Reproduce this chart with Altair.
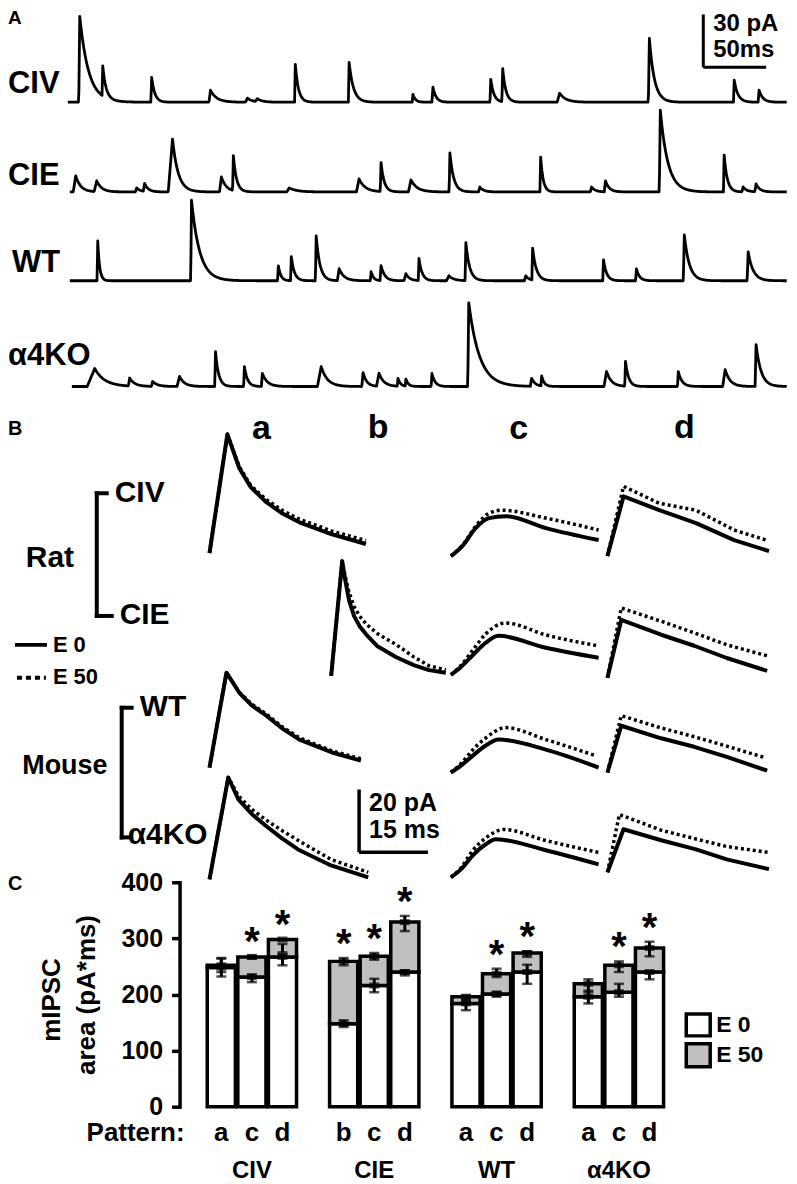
import altair as alt
import numpy as np
import pandas as pd

FONT = "Liberation Sans"

# ======================= Panel A : raw mIPSC traces =======================
# events: (peak time ms, amplitude pA, rise ms, decay tau ms)
A_NAMES = ["CIV", "CIE", "WT", "α4KO"]
A_T_START = [0.0, 1.6, 1.6, 3.2]
A_T_END = [572.0, 572.0, 572.0, 572.0]
CIV_EVENTS = [
    (9.5, 48.7, 0.8, 7.0), (27.8, 17.0, 0.6, 2.5), (66.7, 14.1, 0.6, 2.5),
    (113.5, 6.8, 1.2, 5.0), (142.9, 2.3, 1.5, 4.0), (150.8, 1.7, 1.5, 4.0),
    (181.0, 21.5, 0.6, 2.5), (223.8, 22.6, 0.6, 3.5), (274.6, 4.5, 0.6, 2.0),
    (290.5, 8.5, 0.8, 2.5), (336.5, 13.0, 0.6, 2.5), (346.0, 18.7, 0.6, 2.5),
    (391.3, 5.1, 2.0, 5.0), (462.7, 36.2, 0.8, 4.0), (530.2, 12.5, 0.6, 3.0),
    (550.0, 6.8, 0.8, 3.0),
]
CIE_EVENTS = [
    (6.3, 9.1, 2.0, 4.0), (23.0, 6.2, 2.0, 4.0), (54.8, 2.3, 1.0, 3.0),
    (61.1, 4.5, 1.0, 3.0), (83.3, 30.0, 3.4, 4.5), (122.2, 8.5, 1.5, 4.0),
    (131.7, 19.8, 0.6, 2.5), (176.2, 2.3, 2.0, 6.0), (231.7, 7.4, 2.0, 5.0),
    (249.2, 16.4, 0.6, 2.5), (273.0, 6.8, 2.0, 5.0), (304.0, 22.1, 0.6, 3.0),
    (327.8, 2.8, 1.0, 3.0), (376.2, 19.8, 0.6, 2.0), (416.7, 2.8, 1.0, 3.0),
    (427.8, 6.2, 1.0, 3.0), (471.4, 46.4, 0.8, 6.0), (522.2, 20.9, 0.6, 2.5),
    (537.3, 2.8, 1.0, 3.0), (547.6, 4.5, 1.0, 3.0),
]
WT_EVENTS = [
    (23.8, 22.6, 0.5, 1.5), (98.4, 45.8, 0.6, 6.5), (167.5, 8.5, 0.6, 2.0),
    (177.8, 13.6, 0.6, 2.5), (197.6, 25.5, 0.6, 3.0), (215.9, 6.8, 1.5, 4.0),
    (241.3, 5.1, 0.6, 2.0), (249.2, 8.5, 0.8, 3.0), (269.0, 4.0, 1.5, 3.0),
    (279.4, 12.5, 0.6, 2.5), (303.2, 2.8, 2.0, 4.0), (316.7, 21.5, 0.6, 3.0),
    (364.3, 2.8, 1.0, 3.0), (369.8, 18.1, 0.6, 3.0), (426.2, 11.9, 0.6, 2.5),
    (452.4, 6.8, 0.6, 2.5), (490.5, 26.0, 0.8, 4.0), (541.3, 16.4, 0.8, 4.0),
]
KO_EVENTS = [
    (21.4, 10.2, 6.0, 8.0), (49.2, 4.5, 1.0, 4.0), (67.5, 2.8, 1.0, 4.0),
    (88.9, 5.7, 2.0, 4.0), (117.5, 19.8, 0.6, 2.5), (140.5, 11.3, 0.6, 2.5),
    (154.8, 7.4, 0.8, 4.0), (201.6, 11.3, 3.0, 5.0), (234.9, 7.9, 1.0, 3.0),
    (247.6, 7.4, 2.0, 4.0), (262.7, 4.5, 0.6, 2.0), (269.0, 4.0, 0.6, 2.0),
    (289.7, 7.4, 0.6, 2.5), (319.0, 47.5, 0.8, 8.5), (369.0, 4.5, 1.0, 3.0),
    (377.0, 5.7, 0.6, 2.0), (428.6, 8.5, 2.0, 4.0), (443.7, 14.1, 0.6, 2.5),
    (485.7, 8.5, 0.6, 3.0), (523.0, 9.6, 2.0, 4.0), (547.6, 23.8, 0.8, 4.0),
]
A_EVENTS = [CIV_EVENTS, CIE_EVENTS, WT_EVENTS, KO_EVENTS]
A_SCALE_PA = 30
A_SCALE_MS = 50

# ======================= Panel B : averaged mIPSCs =======================
# knots: (time ms from trace start, current pA above baseline)
CIV_A_E0 = [(0, 0), (3.9, 37.8), (6.5, 27.0), (9.0, 21.0), (12.4, 16.2), (16.0, 12.5), (19.6, 9.8), (26.7, 6.0), (34.1, 2.9)]
CIV_A_E50 = [(0, 0), (3.9, 37.8), (6.5, 27.5), (9.0, 21.5), (12.4, 17.0), (16.0, 13.5), (19.6, 10.8), (26.7, 7.0), (34.1, 4.0)]
CIV_C_E0 = [(0, 0), (2.5, 3.2), (5.4, 8.9), (8.3, 12.1), (12.0, 12.7), (20.7, 8.9), (32.2, 5.1)]
CIV_C_E50 = [(0, 0), (2.5, 3.4), (5.4, 9.5), (8.3, 13.6), (11.0, 14.6), (20.7, 12.1), (32.2, 8.3)]
CIV_D_E0 = [(0, 0), (3.5, 19.0), (11.3, 14.6), (19.3, 10.5), (27.6, 5.1), (35.2, 1.6)]
CIV_D_E50 = [(0, 0), (3.5, 22.2), (11.3, 16.8), (19.3, 14.6), (27.6, 8.3), (34.6, 5.1)]
CIE_B_E0 = [(0, 0), (2.4, 36.5), (3.0, 31.0), (3.9, 24.0), (5.0, 19.0), (6.2, 15.8), (7.6, 13.2), (10.0, 9.5), (14.1, 6.0), (18.0, 3.4), (21.3, 1.8), (25.0, 1.0)]
CIE_B_E50 = [(0, 0), (2.4, 36.5), (3.0, 32.0), (3.9, 26.5), (5.0, 22.0), (6.2, 19.0), (7.6, 16.5), (10.0, 13.5), (14.1, 10.0), (18.0, 6.0), (21.3, 3.2), (25.0, 1.9)]
CIE_C_E0 = [(0, 0), (2.2, 2.5), (4.8, 6.3), (7.6, 10.2), (10.4, 12.4), (20.7, 8.6), (32.2, 5.4)]
CIE_C_E50 = [(0, 0), (2.2, 3.0), (4.8, 7.9), (7.6, 13.0), (11.9, 16.5), (20.7, 12.7), (32.2, 9.2)]
CIE_D_E0 = [(0, 0), (3.0, 18.4), (11.7, 13.7), (18.9, 10.2), (26.0, 6.3), (34.8, 2.2)]
CIE_D_E50 = [(0, 0), (3.0, 22.2), (11.7, 18.0), (18.9, 14.3), (26.0, 10.5), (34.8, 7.0)]
WT_A_E0 = [(0, 0), (3.7, 30.2), (6.5, 23.8), (9.2, 19.8), (12.4, 16.5), (16.0, 12.3), (19.6, 8.9), (26.7, 4.8), (33.0, 2.2)]
WT_A_E50 = [(0, 0), (3.7, 30.2), (6.5, 24.0), (9.2, 20.2), (12.4, 17.0), (16.0, 12.8), (19.6, 9.5), (26.7, 5.3), (33.0, 2.8)]
WT_C_E0 = [(0, 0), (2.2, 2.2), (4.8, 5.4), (7.6, 8.6), (10.4, 10.5), (20.7, 7.3), (32.2, 1.6)]
WT_C_E50 = [(0, 0), (2.2, 2.8), (4.8, 7.3), (7.6, 11.0), (11.9, 14.3), (20.7, 10.5), (31.5, 5.4)]
WT_D_E0 = [(0, 0), (3.0, 14.9), (11.7, 10.9), (18.9, 8.2), (26.0, 5.0), (34.8, 0.6)]
WT_D_E50 = [(0, 0), (3.0, 18.1), (11.7, 14.2), (18.9, 11.4), (26.0, 8.4), (34.2, 4.8)]
KO_A_E0 = [(0, 0), (4.1, 32.4), (6.3, 25.4), (9.2, 20.8), (12.2, 17.1), (15.8, 13.0), (19.3, 9.5), (26.5, 4.4), (34.6, 0.6)]
KO_A_E50 = [(0, 0), (4.1, 32.4), (6.3, 26.5), (9.2, 22.3), (12.2, 19.0), (15.8, 15.5), (19.3, 12.4), (26.5, 6.3), (34.6, 2.2)]
KO_C_E0 = [(0, 0), (2.2, 2.5), (4.8, 7.0), (7.6, 10.5), (9.8, 12.1), (20.7, 8.6), (32.2, 4.1)]
KO_C_E50 = [(0, 0), (2.2, 3.0), (4.8, 8.6), (7.6, 12.5), (11.5, 15.2), (20.7, 11.7), (32.2, 7.9)]
KO_D_E0 = [(0, 0), (3.5, 13.7), (11.7, 10.2), (19.3, 7.3), (26.0, 4.1), (35.2, 1.0)]
KO_D_E50 = [(0, 0), (2.6, 18.4), (11.7, 13.4), (19.3, 10.6), (26.0, 8.2), (35.2, 6.3)]
B_SCALE_PA = 20
B_SCALE_MS = 15

# ======================= Panel C : mIPSC area =======================
C_GROUPS = ["CIV", "CIV", "CIV", "CIE", "CIE", "CIE", "WT", "WT", "WT", "α4KO", "α4KO", "α4KO"]
C_PATTERNS = ["a", "c", "d", "b", "c", "d", "a", "c", "d", "a", "c", "d"]
C_E0 = [248, 231, 267, 148, 216, 240, 184, 201, 240, 196, 204, 240]
C_E50 = [252, 267, 298, 259, 268, 329, 196, 237, 274, 219, 252, 283]
C_E0_LO = [232, 222, 252, 142, 204, 234, 172, 196, 219, 184, 196, 227]
C_E0_HI = [265, 236, 272, 154, 228, 243, 189, 205, 253, 207, 219, 241]
C_E50_LO = [240, 264, 275, 252, 262, 313, 191, 231, 267, 204, 240, 268]
C_E50_HI = [264, 269, 290, 265, 274, 340, 198, 246, 277, 227, 259, 294]
C_SIG = [False, True, True, True, True, True, False, True, True, False, True, True]
C_TICKS = [0, 100, 200, 300, 400]


def txt(s, x, y, size, align="left", angle=0, baseline="middle"):
    return alt.Chart(pd.DataFrame({"s": [s]})).mark_text(
        text=s, font=FONT, fontSize=size, fontWeight="bold", align=align,
        baseline=baseline, angle=angle, color="black"
    ).encode(x=alt.value(x), y=alt.value(y))


def seg(x, x2, y, y2, w=4):
    return alt.Chart(pd.DataFrame({"s": [0]})).mark_rule(
        color="black", strokeWidth=w, strokeCap="square"
    ).encode(x=alt.value(x), x2=alt.value(x2), y=alt.value(y), y2=alt.value(y2))


# ---------------- build panel A ----------------
def build_trace(events, t0, t1, dt=0.4):
    grid = np.arange(t0, t1 + 1e-9, dt)
    peaks = np.array([e[0] for e in events])
    t = np.unique(np.concatenate([grid, peaks[(peaks >= t0) & (peaks <= t1)]]))
    cur = np.zeros_like(t)
    for tp, amp, rise, tau in events:
        up = (t >= tp - rise) & (t < tp)
        cur[up] += amp * (t[up] - (tp - rise)) / rise
        dn = t >= tp
        cur[dn] += amp * np.exp(-(t[dn] - tp) / tau)
    return t, cur


A_OFFSET = [0.0, -50.9, -101.3, -161.3]  # layout: stacking of the traces
frames = []
for name, ev, t0, t1, off in zip(A_NAMES, A_EVENTS, A_T_START, A_T_END, A_OFFSET):
    t, cur = build_trace(ev, t0, t1)
    frames.append(pd.DataFrame({"trace": name, "t": t, "i": cur + off}))
a_df = pd.concat(frames, ignore_index=True)

sxA = alt.Scale(domain=[-47.6, 572.2], nice=False, zero=False)
syA = alt.Scale(domain=[-169.8, 50.9], nice=False, zero=False)
a_lines = alt.Chart(a_df).mark_line(color="black", strokeWidth=2.8, strokeJoin="round").encode(
    x=alt.X("t:Q", scale=sxA, axis=None),
    y=alt.Y("i:Q", scale=syA, axis=None),
    detail="trace:N",
)
bx, by = 505.6, 19.8
a_bar_df = pd.DataFrame({
    "x": [bx, bx], "x2": [bx, bx + A_SCALE_MS],
    "y": [by, by], "y2": [by + A_SCALE_PA, by],
})
a_bar = alt.Chart(a_bar_df).mark_rule(color="black", strokeWidth=3).encode(
    x=alt.X("x:Q", scale=sxA, axis=None), x2="x2:Q",
    y=alt.Y("y:Q", scale=syA, axis=None), y2="y2:Q",
)
A_LABEL_POS = [(0, 72), (0, 164), (4, 251), (0, 344)]
a_layers = [a_lines, a_bar, txt("A", 0, 6, 19)]
for name, (px, py) in zip(A_NAMES, A_LABEL_POS):
    a_layers.append(txt(name, px, py, 31))
a_layers += [txt(f"{A_SCALE_PA} pA", 707, 12, 24), txt(f"{A_SCALE_MS}ms", 707, 38, 24)]
panelA = alt.layer(*a_layers).properties(width=781, height=390)

# ---------------- build panel B ----------------
B_SET = [
    ("CIV", "a", CIV_A_E0, CIV_A_E50), ("CIV", "c", CIV_C_E0, CIV_C_E50), ("CIV", "d", CIV_D_E0, CIV_D_E50),
    ("CIE", "b", CIE_B_E0, CIE_B_E50), ("CIE", "c", CIE_C_E0, CIE_C_E50), ("CIE", "d", CIE_D_E0, CIE_D_E50),
    ("WT", "a", WT_A_E0, WT_A_E50), ("WT", "c", WT_C_E0, WT_C_E50), ("WT", "d", WT_D_E0, WT_D_E50),
    ("α4KO", "a", KO_A_E0, KO_A_E50), ("α4KO", "c", KO_C_E0, KO_C_E50), ("α4KO", "d", KO_D_E0, KO_D_E50),
]
# layout: where each averaged trace sits (ms from left edge, pA above bottom)
PX_MS, PX_PA = 4.6, 3.15
B_COL_T = {"a": (210 - 8) / PX_MS, "b": (332 - 8) / PX_MS, "c": (452 - 8) / PX_MS, "d": (609 - 8) / PX_MS}
B_BASE_PX = {("CIV", "a"): 550, ("CIV", "c"): 553, ("CIV", "d"): 553,
             ("CIE", "b"): 673, ("CIE", "c"): 672, ("CIE", "d"): 675,
             ("WT", "a"): 765, ("WT", "c"): 770, ("WT", "d"): 770,
             ("α4KO", "a"): 877, ("α4KO", "c"): 875, ("α4KO", "d"): 870}
rows = []
for grp, col, e0, e50 in B_SET:
    base = (880 - B_BASE_PX[(grp, col)]) / PX_PA
    for cond, knots in (("E0", e0), ("E50", e50)):
        for k, (tt, ii) in enumerate(knots):
            rows.append({"id": f"{grp}-{col}-{cond}", "cond": cond, "col": col, "k": k,
                         "t": B_COL_T[col] + tt, "i": base + ii})
b_df = pd.DataFrame(rows)
sxB = alt.Scale(domain=[0, 781 / PX_MS], nice=False, zero=False)
syB = alt.Scale(domain=[0, 482 / PX_PA], nice=False, zero=False)


def b_lines(cond, smooth):
    flt = f"datum.cond == '{cond}' && " + ("datum.col == 'c'" if smooth else "datum.col != 'c'")
    style = dict(color="black", strokeJoin="round",
                 interpolate="monotone" if smooth else "linear")
    if cond == "E50":
        style.update(strokeWidth=3.5, strokeDash=[3, 3])
    else:
        style.update(strokeWidth=4)
    return alt.Chart(b_df).transform_filter(flt).mark_line(**style).encode(
        x=alt.X("t:Q", scale=sxB, axis=None), y=alt.Y("i:Q", scale=syB, axis=None),
        detail="id:N", order="k:Q")


sbx, sby = (360 - 8) / PX_MS, (880 - 850) / PX_PA
b_bar_df = pd.DataFrame({"x": [sbx, sbx], "x2": [sbx, sbx + B_SCALE_MS],
                         "y": [sby, sby], "y2": [sby + B_SCALE_PA, sby]})
b_bar = alt.Chart(b_bar_df).mark_rule(color="black", strokeWidth=3.5).encode(
    x=alt.X("x:Q", scale=sxB, axis=None), x2="x2:Q",
    y=alt.Y("y:Q", scale=syB, axis=None), y2="y2:Q",
)
b_layers = [b_lines("E50", False), b_lines("E50", True), b_lines("E0", False), b_lines("E0", True), b_bar,
            txt("B", 0, 28, 20),
            txt("a", 254, 28, 34, align="center"), txt("b", 371, 27, 34, align="center"),
            txt("c", 512, 28, 34, align="center"), txt("d", 678, 27, 34, align="center"),
            txt("Rat", 42, 157, 30, align="center"),
            seg(89, 89, 92, 215), seg(89, 99, 92, 92), seg(89, 104, 215, 215),
            txt("CIV", 107, 92, 30), txt("CIE", 112, 214, 30),
            seg(9, 37, 244, 244), txt("E 0", 45, 244, 22),
            alt.Chart(pd.DataFrame({"s": [0]})).mark_rule(color="black", strokeWidth=4, strokeDash=[5, 4]).encode(
                x=alt.value(9), x2=alt.value(38), y=alt.value(277), y2=alt.value(277)),
            txt("E 50", 45, 276, 22),
            seg(114, 114, 307, 437), seg(114, 124, 307, 307), seg(114, 122, 437, 437),
            txt("WT", 132, 306, 30), txt("Mouse", 57, 365, 27, align="center"),
            txt("α4KO", 120, 435, 30),
            txt(f"{B_SCALE_PA} pA", 362, 403, 25), txt(f"{B_SCALE_MS} ms", 362, 430, 25)]
panelB = alt.layer(*b_layers).properties(width=781, height=482)

# ---------------- build panel C ----------------
SLOTS = ["CIV a", "CIV c", "CIV d", "gap1", "CIE b", "CIE c", "CIE d", "gap2",
         "WT a", "WT c", "WT d", "gap3", "α4KO a", "α4KO c", "α4KO d"]
c_df = pd.DataFrame({
    "group": C_GROUPS, "pattern": C_PATTERNS,
    "slot": [f"{g} {p}" for g, p in zip(C_GROUPS, C_PATTERNS)],
    "e0": C_E0, "e50": C_E50, "e0_lo": C_E0_LO, "e0_hi": C_E0_HI,
    "e50_lo": C_E50_LO, "e50_hi": C_E50_HI, "sig": C_SIG,
})
sxC = alt.Scale(domain=SLOTS, range=[27.75, 485.25], paddingInner=0.08, paddingOuter=0)
syC = alt.Scale(domain=[0, 400], nice=False, zero=True)
yax = alt.Axis(values=C_TICKS, tickSize=8, tickWidth=3.5, domainWidth=3.5, domainColor="black",
               tickColor="black", labelColor="black", labelFont=FONT, labelFontSize=25,
               labelFontWeight="bold", labelPadding=9, grid=False, title=None, domainCap="square")
xC = alt.X("slot:N", scale=sxC, axis=None)


def yC(field):
    return alt.Y(field, scale=syC, axis=yax)


base = alt.Chart(c_df)
white = base.mark_bar(fill="white", stroke="black", strokeWidth=3.5).encode(x=xC, y=yC("e0:Q"))
gray = base.mark_bar(fill="#c0c0c0", stroke="black", strokeWidth=3.5).encode(
    x=xC, y=yC("e0:Q"), y2="e50:Q")
err50 = base.mark_rule(color="black", strokeWidth=3).encode(x=xC, y=yC("e50_lo:Q"), y2="e50_hi:Q")
err0 = base.mark_rule(color="black", strokeWidth=3).encode(x=xC, y=yC("e0_lo:Q"), y2="e0_hi:Q")
caps = base.transform_fold(["e0_lo", "e0_hi", "e50_lo", "e50_hi"], as_=["k", "v"]).mark_tick(
    color="black", size=10, thickness=2.5, orient="horizontal").encode(x=xC, y=yC("v:Q"))
means = base.transform_fold(["e0", "e50"], as_=["k", "v"]).mark_tick(
    color="black", size=10, thickness=6, orient="horizontal").encode(x=xC, y=yC("v:Q"))
stars = base.transform_filter("datum.sig").transform_calculate(
    ys="max(datum.e50, datum.e50_hi)").mark_text(
    text="*", font=FONT, fontSize=40, fontWeight="bold", dy=-1, baseline="alphabetic", color="black"
).encode(x=xC, y=yC("ys:Q"))
pat = base.mark_text(font=FONT, fontSize=26, fontWeight="bold", baseline="middle", color="black").encode(
    x=xC, y=alt.value(251), text="pattern:N")
grp_df = pd.DataFrame({"slot": ["CIV c", "CIE c", "WT c", "α4KO c"], "name": ["CIV", "CIE", "WT", "α4KO"]})
grp = alt.Chart(grp_df).mark_text(font=FONT, fontSize=24, fontWeight="bold", baseline="middle",
                                  color="black").encode(x=xC, y=alt.value(289), text="name:N")


def box(y, y2, fill):
    return alt.Chart(pd.DataFrame({"s": [0]})).mark_rect(fill=fill, stroke="black", strokeWidth=3.5).encode(
        x=alt.value(508), x2=alt.value(532), y=alt.value(y), y2=alt.value(y2))


c_layers = [white, gray, err50, err0, caps, means, stars, pat, grp,
            txt("Pattern:", 5, 251, 26, align="right"),
            box(132, 154, "white"), box(162, 185, "#c0c0c0"),
            txt("E 0", 538, 143, 23), txt("E 50", 538, 173, 23)]
panelC = alt.layer(*c_layers).properties(width=609, height=225)
panelC_left = alt.layer(
    txt("C", 0, 2, 20),
    txt("mIPSC", 44, 118, 26, align="center", angle=270),
    txt("area (pA*ms)", 79, 113, 26, align="center", angle=270),
).properties(width=172, height=225)

rowC = alt.hconcat(panelC_left, panelC, spacing=0, bounds="flush")
chart = alt.vconcat(panelA, panelB, rowC, spacing=0, bounds="flush").properties(
    padding=0, background="white"
).configure_view(stroke=None)

chart.save("out.html", embed_options={"renderer": "svg", "actions": False})
